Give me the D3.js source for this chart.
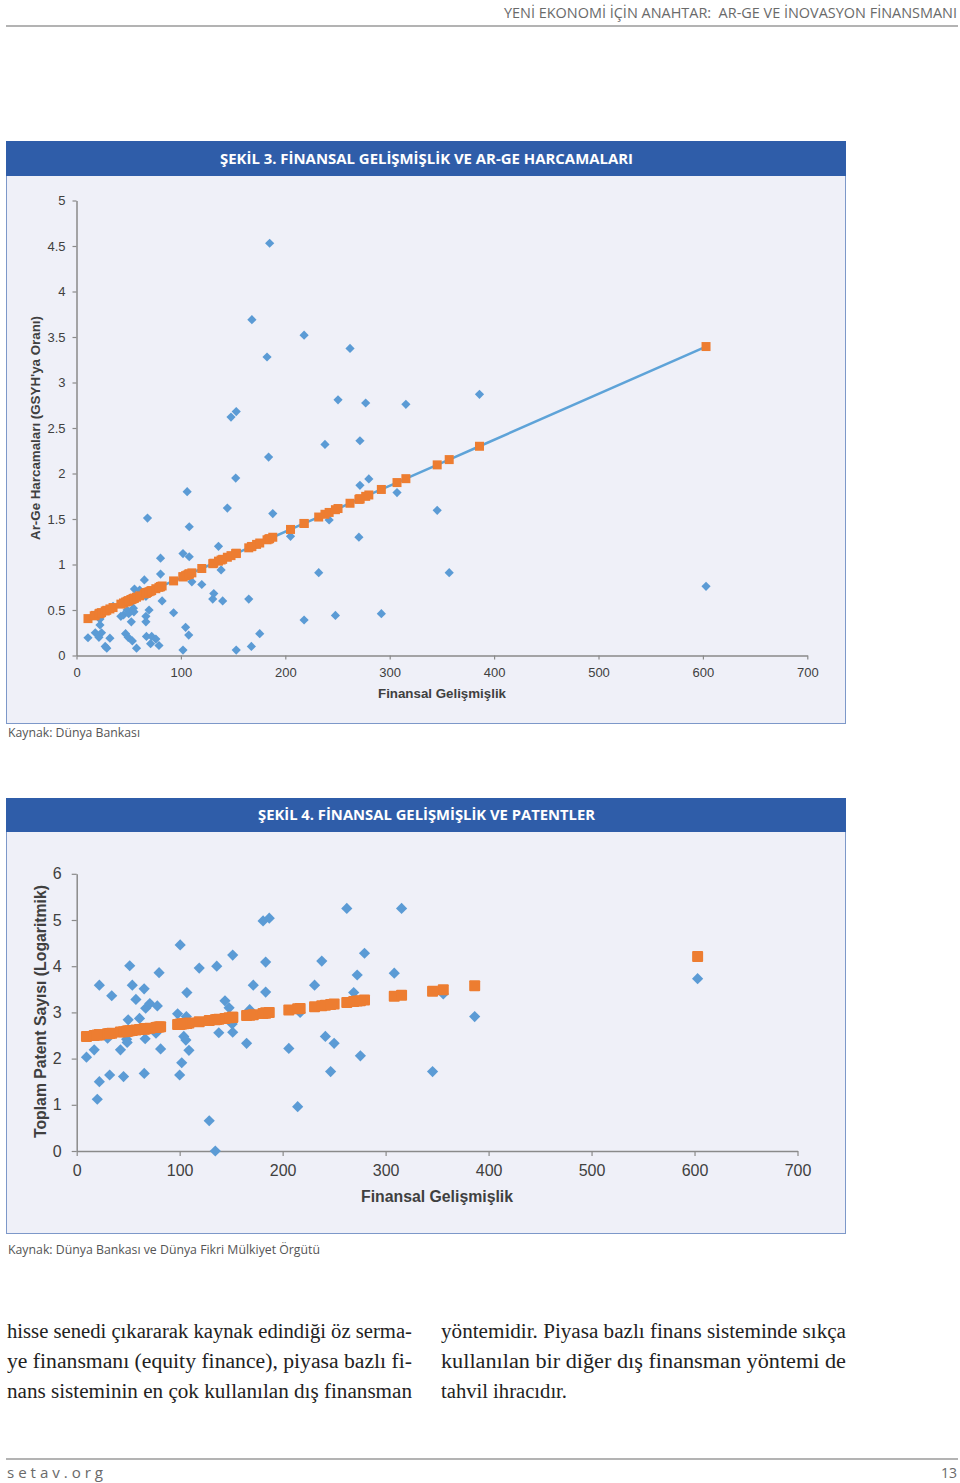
<!DOCTYPE html>
<html>
<head>
<meta charset="utf-8">
<script src="https://cdn.jsdelivr.net/npm/d3@7"></script>
<style>
  html, body { margin: 0; padding: 0; background: #ffffff; }
  svg { display: block; }
  .pre { white-space: pre; }
</style>
</head>
<body>
<svg id="page" width="960" height="1483"></svg>
<script>
// ---------------- DATA ----------------
// Figure 3: financial development (x) vs R&D expenditure (% of GDP)
const fin3 = [185, 168, 218, 182.5, 262, 250.5, 277, 315.5, 386, 148, 153, 238, 271.5, 184, 152.5, 106, 68, 108, 144.5, 188,
  271.5, 280, 242, 307, 345.5, 270.5, 205, 172.5, 136, 232, 357, 218, 248, 292, 175.5, 167.5, 153, 102, 165, 130.5,
  131.5, 140, 120, 110.5, 138.5, 102, 108, 80.5, 80.5, 82, 93, 104.5, 107.5, 65, 66.5, 69.5, 66.5, 66.5, 55.5, 60.5,
  52, 54.5, 48.5, 45, 42.5, 52.5, 35, 47, 49.5, 53.5, 57.5, 67, 72, 76, 71, 79, 11, 18, 21.5, 24,
  22.5, 22.5, 17, 32, 27.5, 29, 603, 50, 55];
const rd3 = [4.53, 3.69, 3.52, 3.28, 3.375, 2.81, 2.775, 2.76, 2.87, 2.62, 2.68, 2.32, 2.36, 2.18, 1.95, 1.80, 1.51, 1.415, 1.62, 1.56,
  1.87, 1.94, 1.49, 1.79, 1.595, 1.30, 1.31, 1.22, 1.20, 0.91, 0.91, 0.39, 0.44, 0.46, 0.24, 0.10, 0.06, 0.06, 0.62, 0.62,
  0.68, 0.60, 0.78, 0.81, 0.94, 1.12, 1.085, 1.07, 0.895, 0.60, 0.47, 0.31, 0.225, 0.83, 0.65, 0.50, 0.43, 0.37, 0.73, 0.72,
  0.60, 0.52, 0.50, 0.445, 0.43, 0.37, 0.54, 0.24, 0.20, 0.16, 0.08, 0.21, 0.21, 0.18, 0.13, 0.11, 0.195, 0.25, 0.20, 0.25,
  0.335, 0.40, 0.445, 0.19, 0.10, 0.08, 0.76, 0.46, 0.48];
// fitted (predicted) line: y = a + b*x
const trendIntercept3 = 0.35;
const trendSlope3 = 0.00505;

// Figure 4: financial development (x) vs total patents (log)
const fin4 = [9.5, 17, 22, 34, 30, 42.5, 51.5, 54, 57.5, 65.5, 67, 71, 78.3, 80, 50, 61, 48.5, 66.5, 77, 81.5,
  100.5, 119, 136, 151.5, 107, 144, 148, 98, 106.5, 104, 106, 109, 102, 138, 151.5, 151, 165, 171.5, 183.5, 183.5,
  181, 187, 168, 206, 217, 231, 238, 241.5, 250, 262.3, 272.4, 279.5, 269, 275.5, 308.4, 315.5, 386.5, 356, 22, 20,
  32, 45.5, 65.6, 100, 128.7, 134.6, 214.6, 246.6, 345.6, 603, 49];
const pat4 = [2.03, 2.19, 3.59, 3.36, 2.44, 2.19, 4.01, 3.59, 3.28, 3.51, 3.09, 3.19, 3.14, 3.86, 2.84, 2.87, 2.42, 2.43, 2.55, 2.21,
  4.46, 3.96, 4.00, 4.24, 3.43, 3.25, 3.10, 2.97, 2.91, 2.48, 2.40, 2.18, 1.91, 2.56, 2.57, 2.75, 2.33, 3.59, 4.09, 3.44,
  4.98, 5.04, 3.06, 2.22, 3.00, 3.59, 4.11, 2.48, 2.33, 5.25, 3.81, 4.28, 3.43, 2.06, 3.85, 5.25, 2.91, 3.40, 1.50, 1.12,
  1.645, 1.61, 1.68, 1.645, 0.655, 0.0, 0.96, 1.72, 1.72, 3.73, 2.35];
const trendIntercept4 = 2.45;
const trendSlope4 = 0.00292;

const xTicks = [0, 100, 200, 300, 400, 500, 600, 700];
const yTicks3 = [0, 0.5, 1, 1.5, 2, 2.5, 3, 3.5, 4, 4.5, 5];
const yTicks4 = [0, 1, 2, 3, 4, 5, 6];

const headerText = "YENİ EKONOMİ İÇİN ANAHTAR:  AR-GE VE İNOVASYON FİNANSMANI";
const title3 = "ŞEKİL 3. FİNANSAL GELİŞMİŞLİK VE AR-GE HARCAMALARI";
const title4 = "ŞEKİL 4. FİNANSAL GELİŞMİŞLİK VE PATENTLER";
const xTitle = "Finansal Gelişmişlik";
const yTitle3 = "Ar-Ge Harcamaları (GSYH'ya Oranı)";
const yTitle4 = "Toplam Patent Sayısı (Logaritmik)";
const source3 = "Kaynak: Dünya Bankası";
const source4 = "Kaynak: Dünya Bankası ve Dünya Fikri Mülkiyet Örgütü";
const leftCol = ["hisse senedi çıkararak kaynak edindiği öz serma-",
                 "ye finansmanı (equity finance), piyasa bazlı fi-",
                 "nans sisteminin en çok kullanılan dış finansman"];
const rightCol = ["yöntemidir. Piyasa bazlı finans sisteminde sıkça",
                  "kullanılan bir diğer dış finansman yöntemi de",
                  "tahvil ihracıdır."];
const footerLeft = "s e t a v . o r g";
const footerRight = "13";

// ---------------- DRAWING ----------------
const svg = d3.select("#page");
const BLUE = "#5b9bd5", ORANGE = "#ed7d31", BAND = "#2f5da9", PANEL = "#eff0f8", FRAME = "#7d98c9";
const AXIS = "#8a8a8a", TICKTXT = "#404040", SANS = "'Liberation Sans', Arial, sans-serif";
const HUM = "'Open Sans', 'Noto Sans', sans-serif";

// page header
svg.append("text").attr("class", "pre").attr("x", 957).attr("y", 18).attr("text-anchor", "end")
  .attr("font-family", "'Liberation Sans Narrow', 'Open Sans', sans-serif").attr("font-size", 14.5)
  .attr("fill", "#6a6a6a").attr("textLength", 453).attr("lengthAdjust", "spacingAndGlyphs").text(headerText);
svg.append("line").attr("x1", 6).attr("x2", 958).attr("y1", 26).attr("y2", 26)
  .attr("stroke", "#9a9a9a").attr("stroke-width", 1.5);

function panel(y0, y1, bandH, title, titleLen) {
  svg.append("rect").attr("x", 6.5).attr("y", y0 + 0.5).attr("width", 839).attr("height", y1 - y0)
    .attr("fill", PANEL).attr("stroke", FRAME).attr("stroke-width", 1);
  svg.append("rect").attr("x", 6).attr("y", y0).attr("width", 840).attr("height", bandH).attr("fill", BAND);
  svg.append("text").attr("x", 426.5).attr("y", y0 + bandH / 2 + 5).attr("text-anchor", "middle")
    .attr("font-family", HUM).attr("font-weight", "bold").attr("font-size", 14.5).attr("fill", "#ffffff")
    .attr("textLength", titleLen).attr("lengthAdjust", "spacingAndGlyphs").text(title);
}

function diamond(r) { return `M0,${-r}L${r},0L0,${r}L${-r},0Z`; }

function styleAxis(g, fs) {
  g.select(".domain").attr("stroke", AXIS).attr("stroke-width", 1.5);
  g.selectAll(".tick line").attr("stroke", AXIS).attr("stroke-width", 1.2);
  g.selectAll(".tick text").attr("fill", TICKTXT).attr("font-family", SANS).attr("font-size", fs);
}

// ---------- Figure 3 ----------
panel(141, 723, 35, title3, 413);
{
  const x = d3.scaleLinear().domain([0, 700]).range([76.5, 807.3]);
  const y = d3.scaleLinear().domain([0, 5]).range([655.5, 200.5]);
  const gy = svg.append("g").attr("transform", "translate(76.5,0)")
    .call(d3.axisLeft(y).tickValues(yTicks3).tickSize(4).tickSizeOuter(0).tickPadding(7).tickFormat(d => String(d)));
  styleAxis(gy, 13);
  const gx = svg.append("g").attr("transform", "translate(0,655.5)")
    .call(d3.axisBottom(x).tickValues(xTicks).tickSize(4).tickSizeOuter(0).tickPadding(8).tickFormat(d => String(d)));
  styleAxis(gx, 13);

  svg.append("text").attr("x", 442).attr("y", 698).attr("text-anchor", "middle")
    .attr("font-family", SANS).attr("font-weight", "bold").attr("font-size", 13).attr("fill", "#404040")
    .attr("textLength", 128).attr("lengthAdjust", "spacingAndGlyphs").text(xTitle);
  svg.append("text").attr("transform", "translate(40,428) rotate(-90)").attr("text-anchor", "middle")
    .attr("font-family", SANS).attr("font-weight", "bold").attr("font-size", 13.5).attr("fill", "#404040")
    .attr("textLength", 224).attr("lengthAdjust", "spacingAndGlyphs").text(yTitle3);

  const pts = fin3.map((v, i) => ({ x: v, y: rd3[i] }));
  const fit = fin3.map(v => ({ x: v, y: trendIntercept3 + trendSlope3 * v })).sort((a, b) => a.x - b.x);

  svg.append("g").selectAll("path").data(pts).join("path")
    .attr("d", diamond(4.6)).attr("transform", d => `translate(${x(d.x)},${y(d.y)})`).attr("fill", BLUE);
  svg.append("path").datum(fit).attr("fill", "none").attr("stroke", "#5ea3d8").attr("stroke-width", 2.5)
    .attr("d", d3.line().x(d => x(d.x)).y(d => y(d.y)));
  svg.append("g").selectAll("rect").data(fit).join("rect")
    .attr("x", d => x(d.x) - 4.5).attr("y", d => y(d.y) - 4.5).attr("width", 9).attr("height", 9).attr("fill", ORANGE);
}
svg.append("text").attr("x", 8).attr("y", 737).attr("font-family", HUM).attr("font-size", 12.5)
  .attr("fill", "#555").attr("textLength", 132).attr("lengthAdjust", "spacingAndGlyphs").text(source3);

// ---------- Figure 4 ----------
panel(798, 1233, 34, title4, 337);
{
  const x = d3.scaleLinear().domain([0, 700]).range([76.7, 797.5]);
  const y = d3.scaleLinear().domain([0, 6]).range([1151, 873.8]);
  const gy = svg.append("g").attr("transform", "translate(76.7,0)")
    .call(d3.axisLeft(y).tickValues(yTicks4).tickSize(5).tickSizeOuter(0).tickPadding(10).tickFormat(d => String(d)));
  styleAxis(gy, 16);
  const gx = svg.append("g").attr("transform", "translate(0,1151)")
    .call(d3.axisBottom(x).tickValues(xTicks).tickSize(5).tickSizeOuter(0).tickPadding(9).tickFormat(d => String(d)));
  styleAxis(gx, 16);

  svg.append("text").attr("x", 437).attr("y", 1202).attr("text-anchor", "middle")
    .attr("font-family", SANS).attr("font-weight", "bold").attr("font-size", 16).attr("fill", "#404040")
    .attr("textLength", 152).attr("lengthAdjust", "spacingAndGlyphs").text(xTitle);
  svg.append("text").attr("transform", "translate(46,1011.5) rotate(-90)").attr("text-anchor", "middle")
    .attr("font-family", SANS).attr("font-weight", "bold").attr("font-size", 16).attr("fill", "#404040")
    .attr("textLength", 253).attr("lengthAdjust", "spacingAndGlyphs").text(yTitle4);

  const pts = fin4.map((v, i) => ({ x: v, y: pat4[i] }));
  const fit = fin4.map(v => ({ x: v, y: trendIntercept4 + trendSlope4 * v }));

  svg.append("g").selectAll("path").data(pts).join("path")
    .attr("d", diamond(5.6)).attr("transform", d => `translate(${x(d.x)},${y(d.y)})`).attr("fill", BLUE);
  svg.append("g").selectAll("rect").data(fit).join("rect")
    .attr("x", d => x(d.x) - 5.5).attr("y", d => y(d.y) - 5.5).attr("width", 11).attr("height", 11)
    .attr("rx", 1).attr("fill", ORANGE);
}
svg.append("text").attr("x", 8).attr("y", 1254).attr("font-family", HUM).attr("font-size", 12.5)
  .attr("fill", "#555").attr("textLength", 312).attr("lengthAdjust", "spacingAndGlyphs").text(source4);

// ---------- body text ----------
const SERIF = "'Liberation Serif', 'DejaVu Serif', serif";
leftCol.forEach((t, i) => {
  svg.append("text").attr("x", 7).attr("y", 1338 + i * 30).attr("font-family", SERIF).attr("font-size", 20)
    .attr("fill", "#222").attr("textLength", 405).attr("lengthAdjust", "spacingAndGlyphs").text(t);
});
rightCol.forEach((t, i) => {
  const s = svg.append("text").attr("x", 441).attr("y", 1338 + i * 30).attr("font-family", SERIF).attr("font-size", 20)
    .attr("fill", "#222").text(t);
  s.attr("textLength", i < 2 ? 405 : 126).attr("lengthAdjust", "spacingAndGlyphs");
});

// ---------- footer ----------
svg.append("line").attr("x1", 6).attr("x2", 958).attr("y1", 1459).attr("y2", 1459)
  .attr("stroke", "#9a9a9a").attr("stroke-width", 1.5);
svg.append("text").attr("x", 7).attr("y", 1478).attr("font-family", "'Open Sans', sans-serif").attr("font-size", 14)
  .attr("fill", "#6a6a6a").attr("textLength", 96).attr("lengthAdjust", "spacingAndGlyphs").text(footerLeft);
svg.append("text").attr("x", 957).attr("y", 1478).attr("text-anchor", "end").attr("font-family", "'Open Sans', sans-serif")
  .attr("font-size", 14).attr("fill", "#6a6a6a").text(footerRight);
</script>
</body>
</html>
